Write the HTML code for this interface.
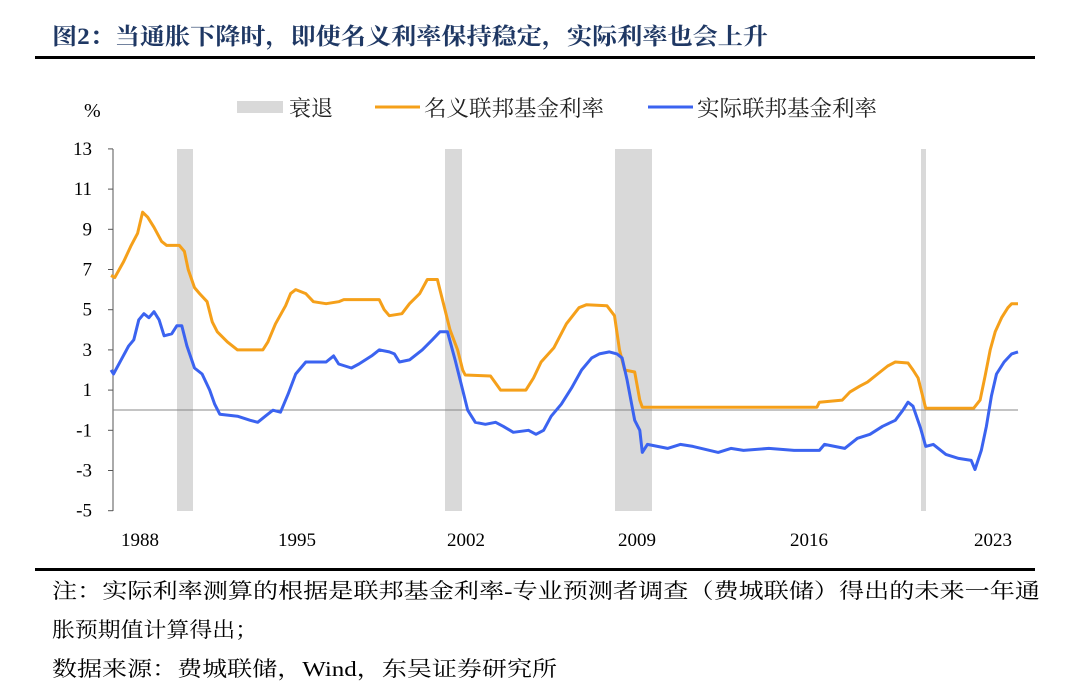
<!DOCTYPE html>
<html><head><meta charset="utf-8"><style>
body{margin:0;width:1080px;height:692px;background:#fff;overflow:hidden;font-family:"Liberation Serif","Noto Serif CJK SC",serif}
</style></head><body>
<svg width="1080" height="692" xmlns="http://www.w3.org/2000/svg" font-family="Liberation Serif, Noto Serif CJK SC, serif">
<text x="52" y="44" font-size="23" font-weight="bold" fill="#1f3864" textLength="716" lengthAdjust="spacingAndGlyphs">图2：当通胀下降时，即使名义利率保持稳定，实际利率也会上升</text>
<rect x="35" y="56" width="1000" height="3" fill="#000"/>
<text x="84" y="117" font-size="20" fill="#000">%</text>
<rect x="237" y="101" width="46" height="12" fill="#d9d9d9"/>
<text x="289" y="116" font-size="22" fill="#222" textLength="44" lengthAdjust="spacingAndGlyphs">衰退</text>
<line x1="375" y1="107" x2="420" y2="107" stroke="#f5a01a" stroke-width="3"/>
<text x="424" y="116" font-size="22" fill="#222" textLength="180" lengthAdjust="spacingAndGlyphs">名义联邦基金利率</text>
<line x1="648" y1="107" x2="693" y2="107" stroke="#3b63f0" stroke-width="3"/>
<text x="697" y="116" font-size="22" fill="#222" textLength="180" lengthAdjust="spacingAndGlyphs">实际联邦基金利率</text>
<g fill="#d9d9d9">
<rect x="177" y="149" width="16" height="362"/>
<rect x="445" y="149" width="17" height="362"/>
<rect x="615" y="149" width="37" height="362"/>
<rect x="921" y="149" width="5" height="362"/>
</g>
<g id="ax" stroke="#555" stroke-width="1"></g>
<line x1="113" y1="410" x2="1018" y2="410" stroke="#888" stroke-width="1"/>
<g font-size="19" fill="#000" text-anchor="end" id="yl"></g>
<g font-size="19" fill="#000" text-anchor="middle">
<text x="140" y="546">1988</text><text x="297" y="546">1995</text><text x="466" y="546">2002</text>
<text x="637" y="546">2009</text><text x="809" y="546">2016</text><text x="993" y="546">2023</text>
</g>
<polyline id="o" fill="none" stroke="#f5a01a" stroke-width="3" stroke-linejoin="round"/>
<polyline id="b" fill="none" stroke="#3b63f0" stroke-width="3" stroke-linejoin="round"/>
<rect x="35" y="568" width="1000" height="3" fill="#000"/>
<g font-size="21" fill="#000">
<text x="52" y="598" textLength="988" lengthAdjust="spacingAndGlyphs">注：实际利率测算的根据是联邦基金利率-专业预测者调查（费城联储）得出的未来一年通</text>
<text x="52" y="637" textLength="206" lengthAdjust="spacingAndGlyphs">胀预期值计算得出；</text>
<text x="52" y="676" textLength="505" lengthAdjust="spacingAndGlyphs">数据来源：费城联储，Wind，东吴证券研究所</text>
</g>
</svg>
<script>
var X=t=>111+(t-1988)*25.3, Y=v=>410.2-v*20.1;
var ax=document.getElementById('ax'),yl=document.getElementById('yl'),ns='http://www.w3.org/2000/svg';
function el(n,a,p){var e=document.createElementNS(ns,n);for(var k in a)e.setAttribute(k,a[k]);p.appendChild(e);return e;}
el('line',{x1:113,y1:149,x2:113,y2:511},ax);
for(var v=13;v>=-5;v-=2){var y=Y(v);el('line',{x1:108,y1:y,x2:113,y2:y},ax);var t=el('text',{x:92,y:y+6},yl);t.textContent=v;}
var O=[[1988,6.7],[1988.15,6.6],[1988.5,7.4],[1988.8,8.2],[1989.05,8.8],[1989.25,9.85],[1989.45,9.6],[1989.7,9.1],[1990,8.4],[1990.2,8.2],[1990.7,8.2],[1990.9,7.9],[1991.05,7.0],[1991.3,6.1],[1991.5,5.8],[1991.8,5.4],[1992.0,4.4],[1992.2,3.9],[1992.6,3.4],[1993.0,3.0],[1994.0,3.0],[1994.2,3.4],[1994.5,4.3],[1994.9,5.2],[1995.1,5.8],[1995.3,6.0],[1995.7,5.8],[1996.0,5.4],[1996.5,5.3],[1997.0,5.4],[1997.2,5.5],[1998.6,5.5],[1998.8,5.0],[1999.0,4.7],[1999.5,4.8],[1999.8,5.3],[2000.2,5.8],[2000.5,6.5],[2000.9,6.5],[2001.0,6.0],[2001.2,5.0],[2001.4,4.0],[2001.7,3.0],[2001.9,2.0],[2002.0,1.75],[2003.0,1.7],[2003.4,1.0],[2004.4,1.0],[2004.7,1.6],[2005.0,2.4],[2005.5,3.1],[2006.0,4.3],[2006.5,5.1],[2006.8,5.25],[2007.6,5.2],[2007.9,4.7],[2008.1,3.0],[2008.3,2.0],[2008.7,1.9],[2008.9,0.5],[2009.0,0.15],[2015.9,0.15],[2016.0,0.4],[2016.9,0.5],[2017.2,0.9],[2017.6,1.2],[2017.9,1.4],[2018.3,1.8],[2018.7,2.2],[2019.0,2.4],[2019.5,2.35],[2019.7,2.0],[2019.9,1.6],[2020.2,0.1],[2022.1,0.1],[2022.35,0.5],[2022.55,1.7],[2022.75,3.0],[2022.95,3.9],[2023.2,4.6],[2023.45,5.1],[2023.6,5.3],[2023.85,5.3]];
var B=[[1988,2.0],[1988.1,1.8],[1988.4,2.5],[1988.7,3.2],[1988.9,3.5],[1989.1,4.5],[1989.3,4.8],[1989.5,4.6],[1989.7,4.9],[1989.9,4.5],[1990.1,3.7],[1990.4,3.8],[1990.6,4.2],[1990.8,4.2],[1991.0,3.2],[1991.3,2.1],[1991.6,1.8],[1991.9,1.0],[1992.1,0.3],[1992.3,-0.2],[1993.0,-0.3],[1993.5,-0.5],[1993.8,-0.6],[1994.1,-0.3],[1994.4,0.0],[1994.7,-0.1],[1995.0,0.8],[1995.3,1.8],[1995.7,2.4],[1996.0,2.4],[1996.5,2.4],[1996.8,2.7],[1997.0,2.3],[1997.5,2.1],[1997.8,2.3],[1998.3,2.7],[1998.6,3.0],[1999.0,2.9],[1999.2,2.8],[1999.4,2.4],[1999.8,2.5],[2000.3,3.0],[2000.7,3.5],[2001.0,3.9],[2001.3,3.9],[2001.6,2.5],[2001.9,1.0],[2002.1,0.0],[2002.4,-0.6],[2002.8,-0.7],[2003.2,-0.6],[2003.5,-0.8],[2003.9,-1.1],[2004.5,-1.0],[2004.8,-1.2],[2005.1,-1.0],[2005.4,-0.3],[2005.8,0.3],[2006.2,1.1],[2006.6,2.0],[2007.0,2.6],[2007.3,2.8],[2007.7,2.9],[2008.0,2.8],[2008.2,2.6],[2008.4,1.5],[2008.7,-0.5],[2008.9,-1.0],[2009.0,-2.1],[2009.2,-1.7],[2010,-1.9],[2010.5,-1.7],[2011,-1.8],[2012,-2.1],[2012.5,-1.9],[2013,-2.0],[2014,-1.9],[2015,-2.0],[2016,-2.0],[2016.2,-1.7],[2017,-1.9],[2017.5,-1.4],[2018,-1.2],[2018.5,-0.8],[2019.0,-0.5],[2019.3,0.0],[2019.5,0.4],[2019.7,0.2],[2020.0,-0.9],[2020.2,-1.8],[2020.5,-1.7],[2021,-2.2],[2021.5,-2.4],[2022,-2.5],[2022.15,-2.95],[2022.4,-2.0],[2022.6,-0.8],[2022.8,0.7],[2023.0,1.8],[2023.3,2.4],[2023.6,2.8],[2023.85,2.9]];
function pts(a){return a.map(p=>X(p[0]).toFixed(1)+','+Y(p[1]).toFixed(1)).join(' ');}
document.getElementById('o').setAttribute('points',pts(O));
document.getElementById('b').setAttribute('points',pts(B));
</script>
</body></html>
